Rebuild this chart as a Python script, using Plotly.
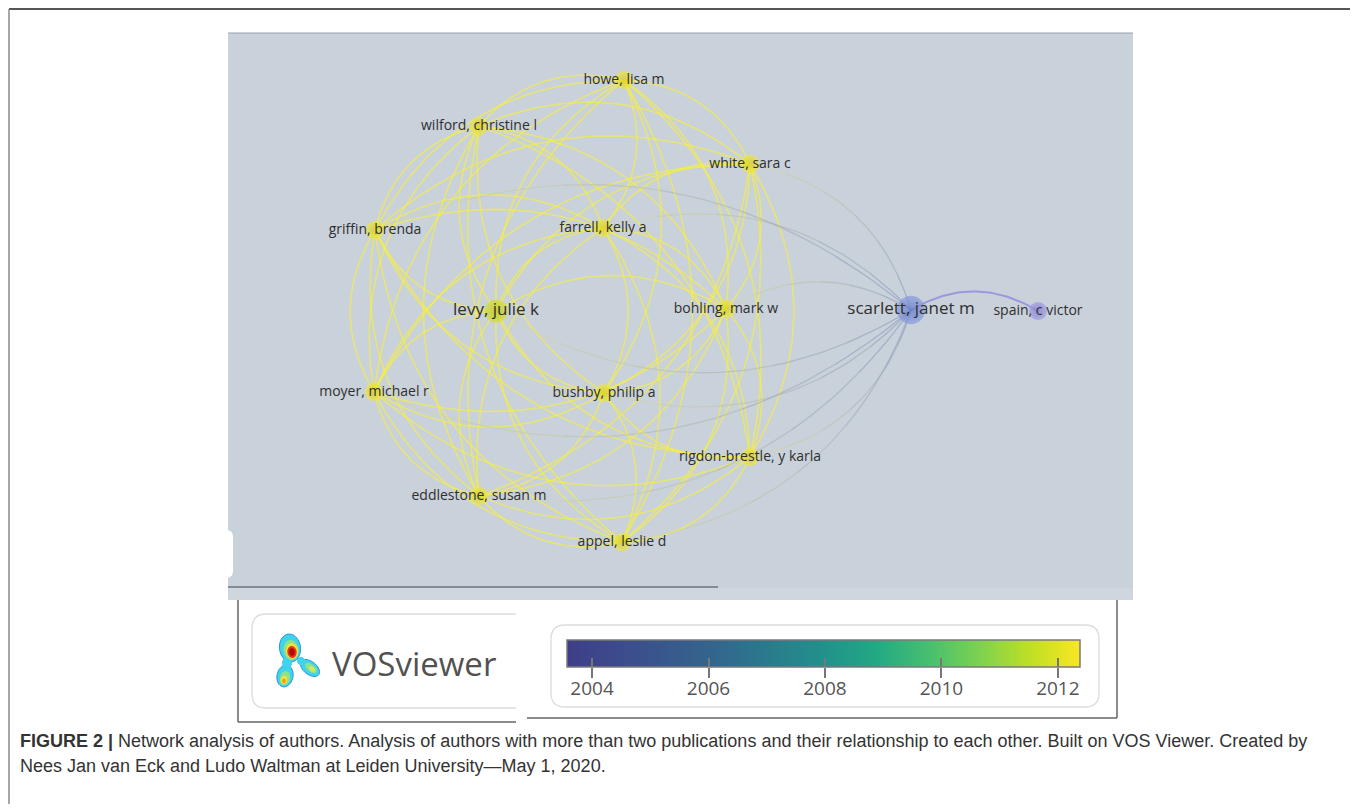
import numpy as np
import plotly.graph_objects as go

# ------------------------------------------------------------------ data
node_ids = ["ho", "wi", "wh", "gr", "fa", "le", "bo", "sc", "sp",
            "mo", "bu", "ri", "ed", "ap"]
node_labels = ["howe, lisa m", "wilford, christine l", "white, sara c",
               "griffin, brenda", "farrell, kelly a", "levy, julie k",
               "bohling, mark w", "scarlett, janet m", "spain, c victor",
               "moyer, michael r", "bushby, philip a",
               "rigdon-brestle, y karla", "eddlestone, susan m",
               "appel, leslie d"]
# VOSviewer map coordinates (panel units)
node_x = [396, 251, 522, 147, 375, 268, 498, 683, 810, 146, 376, 522, 251, 394]
node_y = [47, 93, 131, 197, 195, 278, 276, 277, 278, 359, 360, 424, 463, 509]
# average publication year (overlay colour)
node_year = [2012.3, 2012.3, 2012.3, 2012.3, 2012.3, 2011.8, 2012.3,
             2005.8, 2004.6, 2012.3, 2012.3, 2012.3, 2012.3, 2012.3]
# weight (documents) -> node size
node_weight = [3, 3, 3, 3, 3, 6, 3, 9, 3, 3, 3, 3, 3, 3]

links = ("ho-wi ho-wh ho-gr ho-fa ho-le ho-bo ho-mo ho-bu ho-ri ho-ed ho-ap "
         "wi-wh wi-gr wi-fa wi-le wi-bo wi-mo wi-bu wi-ri wi-ed wi-ap "
         "wh-gr wh-fa wh-le wh-bo wh-mo wh-bu wh-ri wh-ed wh-ap "
         "gr-fa gr-le gr-bo gr-mo gr-bu gr-ri gr-ed gr-ap "
         "fa-le fa-bo fa-mo fa-bu fa-ri fa-ed fa-ap "
         "le-bo le-mo le-bu le-ri le-ed le-ap "
         "bo-mo bo-bu bo-ri bo-ed bo-ap "
         "mo-bu mo-ri mo-ed mo-ap "
         "bu-ri bu-ed bu-ap "
         "ri-ed ri-ap "
         "ed-ap "
         "sc-wh sc-fa sc-gr sc-le sc-bo sc-mo sc-bu sc-ri sc-ed sc-ap "
         "sc-sp").split()

cbar_ticks = [2004, 2006, 2008, 2010, 2012]
cbar_range = [2003.57, 2012.38]

caption_1 = ("<b>FIGURE 2 |</b> Network analysis of authors. Analysis of authors with more "
             "than two publications and their relationship to each other. Built on VOS "
             "Viewer. Created by")
caption_2 = "Nees Jan van Eck and Ludo Waltman at Leiden University\u2014May 1, 2020."

# ------------------------------------------------------------------ styles
W, H, OFF = 1342, 796, 8


def fx(px):
    return (px - OFF) / W


def fy(py):
    return 1 - (py - OFF) / H


def node_style(year):
    if year > 2011.5:
        return "#f0e840", "#d4cb18"
    if year > 2010:
        return "#d8e03a", "#b8c41c"
    if year > 2005:
        return "#8a9de0", "#5b74c4"
    return "#a39ce2", "#7b74cd"


node_fill = [node_style(y)[0] for y in node_year]
node_edge = [node_style(y)[1] for y in node_year]
node_fill[5], node_edge[5] = "#d6e034", "#b9c31d"   # levy, slightly greener
node_size = [13 + 1.7 * w for w in node_weight]
label_size = [17 if w >= 6 else 14 for w in node_weight]

# VOSviewer-style viridis (lighter low end)
vos_scale = [[0.0, "rgb(62,62,136)"], [0.12, "rgb(60,78,139)"],
             [0.28, "rgb(52,100,141)"], [0.5, "rgb(33,145,140)"],
             [0.6, "rgb(34,168,132)"], [0.7, "rgb(68,190,112)"],
             [0.8, "rgb(122,209,81)"], [0.9, "rgb(189,223,38)"],
             [1.0, "rgb(250,230,35)"]]

idx = {k: i for i, k in enumerate(node_ids)}
yellow = [i for i, y in enumerate(node_year) if y > 2010]
cx = np.mean([node_x[i] for i in yellow])
cy = np.mean([node_y[i] for i in yellow])


def angle(i):
    return np.arctan2(node_y[i] - cy, node_x[i] - cx)


def curve(i, j, k=0.15, n=40):
    p = np.array([node_x[i], node_y[i]], float)
    q = np.array([node_x[j], node_y[j]], float)
    d = q - p
    c = (p + q) / 2 + 2 * k * np.array([d[1], -d[0]])
    t = np.linspace(0, 1, n)[:, None]
    pts = (1 - t) ** 2 * p + 2 * (1 - t) * t * c + t ** 2 * q
    return pts[:, 0], pts[:, 1]


fig = go.Figure()

# ------------------------------------------------------------------ links
for lk in links:
    a, b = (idx[s] for s in lk.split("-"))
    diff = (angle(b) - angle(a)) % (2 * np.pi)
    if abs(diff) < 1e-3:
        diff = 0.1 if np.hypot(node_x[a] - cx, node_y[a] - cy) < np.hypot(node_x[b] - cx, node_y[b] - cy) else 6
    if diff > np.pi:
        a, b = b, a
    xs, ys = curve(a, b)
    ya, yb = node_year[a] > 2010, node_year[b] > 2010
    if ya and yb:
        fig.add_trace(go.Scatter(x=xs, y=ys, mode="lines",
                                 line=dict(color="rgba(250,242,55,0.58)", width=1.7),
                                 xaxis="x2", yaxis="y2", hoverinfo="skip",
                                 showlegend=False))
    elif not ya and not yb:
        fig.add_trace(go.Scatter(x=xs, y=ys, mode="lines",
                                 line=dict(color="rgba(145,138,222,0.8)", width=2),
                                 xaxis="x2", yaxis="y2", hoverinfo="skip",
                                 showlegend=False))
    else:
        # colour blends from the yellow end to the blue end
        c_y = np.array([222, 220, 140, 0.45])
        c_b = np.array([135, 150, 192, 0.6])
        nseg = 6
        for s in range(nseg):
            lo, hi = s * len(xs) // nseg, (s + 1) * len(xs) // nseg + 1
            f = (s + 0.5) / nseg
            f = f if ya else 1 - f   # f = fraction toward blue end
            col = c_y * (1 - f) + c_b * f
            fig.add_trace(go.Scatter(
                x=xs[lo:hi], y=ys[lo:hi], mode="lines",
                line=dict(color="rgba(%d,%d,%d,%.2f)" % tuple(col), width=1.3),
                xaxis="x2", yaxis="y2", hoverinfo="skip", showlegend=False))

# ------------------------------------------------------------------ nodes + labels
fig.add_trace(go.Scatter(
    x=node_x, y=node_y, mode="markers",
    marker=dict(size=node_size, color=node_fill, line=dict(width=0),
                gradient=dict(type="radial", color=node_edge)),
    xaxis="x2", yaxis="y2", hoverinfo="skip", showlegend=False))
fig.add_trace(go.Scatter(
    x=node_x, y=node_y, mode="text", text=node_labels,
    textposition="middle center",
    textfont=dict(family="Open Sans", size=label_size, color="#2f2f2f"),
    xaxis="x2", yaxis="y2", hoverinfo="skip", showlegend=False))

# ------------------------------------------------------------------ colour bar
gx = np.linspace(cbar_range[0], cbar_range[1], 300)
fig.add_trace(go.Heatmap(x=gx, y=[0], z=[gx], colorscale=vos_scale,
                         zmin=cbar_range[0], zmax=cbar_range[1], showscale=False,
                         xaxis="x3", yaxis="y3", hoverinfo="skip"))
fig.add_trace(go.Scatter(x=[2008], y=[0], mode="markers",
                         marker=dict(opacity=0), xaxis="x4", yaxis="y3",
                         hoverinfo="skip", showlegend=False))

# ------------------------------------------------------------------ decorations
shapes = []


def line(x0, y0, x1, y1, color="#666", width=1.5, layer="above"):
    shapes.append(dict(type="line", xref="x", yref="y", x0=x0, y0=y0, x1=x1, y1=y1,
                       line=dict(color=color, width=width), layer=layer))


def rect(x0, y0, x1, y1, fill, lc=None, lw=0, layer="below"):
    shapes.append(dict(type="rect", xref="x", yref="y", x0=x0, y0=y0, x1=x1, y1=y1,
                       fillcolor=fill, line=dict(color=lc or fill, width=lw), layer=layer))


def path(d, fill="rgba(0,0,0,0)", lc="#ddd", lw=1.2, layer="below"):
    shapes.append(dict(type="path", xref="x", yref="y", path=d, fillcolor=fill,
                       line=dict(color=lc, width=lw), layer=layer))


def ellipse(cx_, cy_, rx, ry, fill, lc=None, lw=0, rot=0, n=36):
    t = np.linspace(0, 2 * np.pi, n, endpoint=False)
    ca, sa = np.cos(np.radians(rot)), np.sin(np.radians(rot))
    px = cx_ + rx * np.cos(t) * ca - ry * np.sin(t) * sa
    py = cy_ + rx * np.cos(t) * sa + ry * np.sin(t) * ca
    d = "M " + " L ".join("%.2f,%.2f" % (a, b) for a, b in zip(px, py)) + " Z"
    path(d, fill=fill, lc=lc or fill, lw=lw, layer="above")


# outer figure frame
line(9, 9, 1351, 9, color="#555", width=2)
line(9, 9, 9, 805, color="#8a8a8a", width=1.5)
line(1351, 9, 1351, 805, color="#8a8a8a", width=1.5)
line(9, 805, 1351, 805, color="#8a8a8a", width=1.5)

# map panel
rect(228, 33, 1133, 600, "#c9d1db")
rect(228, 588, 1133, 600, "#d0d6de")
line(228, 33, 1133, 33, color="#9aa1aa", width=1.2, layer="below")
line(228, 587, 718, 587, color="#6c737a", width=1.5, layer="below")
path("M 222,530 L 226,530 Q 233,530 233,537 L 233,571 Q 233,578 226,578 L 222,578 Z",
     fill="#ffffff", lc="#ffffff", lw=0)

# frames below panel
line(238, 600, 238, 722)
line(238, 722, 516, 722)
line(1117, 600, 1117, 718)
line(527, 718, 1117, 718)

# logo box (right side cut off) and colour-bar box
path("M 516,614 L 266,614 Q 252,614 252,628 L 252,694 Q 252,708 266,708 L 516,708",
     lc="#dcdcdc", lw=1.3)
path("M 565,625 L 1085,625 Q 1099,625 1099,639 L 1099,693 Q 1099,707 1085,707 "
     "L 565,707 Q 551,707 551,693 L 551,639 Q 551,625 565,625 Z",
     lc="#dcdcdc", lw=1.3)
# colour bar border
rect(567, 640, 1080, 667, "rgba(0,0,0,0)", lc="#7a7a7a", lw=1.5, layer="above")

# logo blobs (outer cyan layer first, then inner layers)
ellipse(310, 668, 11, 6.5, "#3fd3ec", lc="#2a93dc", lw=1, rot=38)
ellipse(285, 676, 8, 11, "#3fd3ec", lc="#2a93dc", lw=1, rot=12)
ellipse(290, 648, 10.5, 14, "#3fd3ec", lc="#2a93dc", lw=1, rot=-8)
ellipse(287, 663, 5, 6, "#3fd3ec")
ellipse(301, 661, 4, 4, "#3fd3ec")
ellipse(311, 668, 7, 3.6, "#8ee28a", rot=38)
ellipse(312, 669, 3.5, 2, "#d5ea5a", rot=38)
ellipse(285, 678, 5, 7, "#8ee28a", rot=12)
ellipse(284, 680, 3.3, 4.5, "#f2e23a", rot=12)
ellipse(284, 681, 1.7, 2.3, "#f59a20")
ellipse(291, 650, 7.5, 10, "#8ee28a", rot=-8)
ellipse(292, 651, 6, 7.8, "#f2e23a", rot=-8)
ellipse(292, 652, 4.6, 6, "#e8351c", rot=-8)
ellipse(292, 652, 2.8, 3.8, "#b00c0c", rot=-8)

annotations = [
    dict(text="VOSviewer", x=330, y=663, xref="x", yref="y", xanchor="left",
         yanchor="middle", showarrow=False,
         font=dict(family="Open Sans", size=33, color="#525252")),
    dict(text=caption_1, x=18, y=741, xref="x", yref="y", xanchor="left",
         yanchor="middle", showarrow=False,
         font=dict(family="Liberation Sans", size=18, color="#333333")),
    dict(text=caption_2, x=18, y=766, xref="x", yref="y", xanchor="left",
         yanchor="middle", showarrow=False,
         font=dict(family="Liberation Sans", size=18, color="#333333")),
]

hidden = dict(visible=False, showgrid=False, zeroline=False, fixedrange=True)
fig.update_layout(
    width=W, height=H, margin=dict(l=0, r=0, t=0, b=0),
    paper_bgcolor="white", plot_bgcolor="rgba(0,0,0,0)",
    showlegend=False, hovermode=False,
    shapes=shapes, annotations=annotations,
    xaxis=dict(domain=[0, 1], range=[OFF, OFF + W], **hidden),
    yaxis=dict(domain=[0, 1], range=[OFF + H, OFF], **hidden),
    xaxis2=dict(domain=[fx(228), fx(1133)], range=[0, 905], anchor="y2", **hidden),
    yaxis2=dict(domain=[fy(600), fy(33)], range=[567, 0], anchor="x2", **hidden),
    xaxis3=dict(domain=[fx(567), fx(1080)], range=cbar_range, anchor="y3",
                showgrid=False, zeroline=False, showline=False, fixedrange=True,
                tickvals=cbar_ticks, ticks="outside", ticklen=10, tickwidth=1.5,
                tickcolor="#777777", showticklabels=False),
    xaxis4=dict(domain=[fx(567), fx(1080)], range=cbar_range, anchor="y3",
                overlaying="x3", matches="x3", showgrid=False, zeroline=False,
                showline=False, fixedrange=True, tickvals=cbar_ticks,
                ticks="inside", ticklen=9, tickwidth=1.5, tickcolor="#777777",
                showticklabels=True, ticklabelstandoff=8,
                tickfont=dict(family="Open Sans", size=19, color="#555555")),
    yaxis3=dict(domain=[fy(667), fy(640)], range=[-0.5, 0.5], anchor="x3", **hidden),
)

fig.write_html("out.html")
